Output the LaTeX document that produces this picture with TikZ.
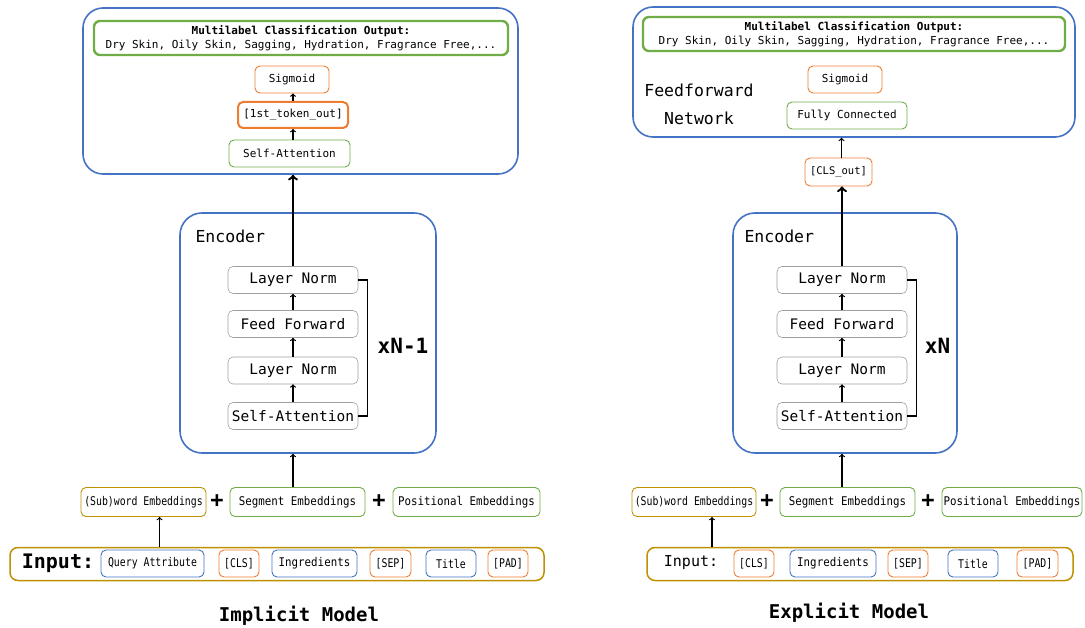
\documentclass[tikz,border=0pt]{standalone}
\usepackage{fontspec}
\setmonofont{DejaVu Sans Mono}
\newfontfamily\condmono[FakeStretch=0.82]{DejaVu Sans Mono}
\newfontfamily\semimono[FakeStretch=0.9]{DejaVu Sans Mono}
\usepackage{xcolor}
\usetikzlibrary{
    arrows,
    positioning
}
\definecolor{lblue}{HTML}{4472C4}
\definecolor{lgreen}{HTML}{70AD47}
\definecolor{lorange}{HTML}{ED7D31}
\definecolor{lgold}{HTML}{BF9000}
\definecolor{lgray}{HTML}{A0A0A0}
\newcommand{\fsz}[1]{\ttfamily\fontsize{#1}{#1}\selectfont}
\newcommand{\csz}[1]{\condmono\fontsize{#1}{#1}\selectfont}
\newcommand{\ssz}[1]{\semimono\fontsize{#1}{#1}\selectfont}
\tikzset{
    blk/.style={draw, rounded corners=5pt, inner sep=0pt, line width=0.9pt, font=\fsz{11}},
    bluebox/.style={blk, draw=lblue},
    greenbox/.style={blk, draw=lgreen},
    orangebox/.style={blk, draw=lorange},
    goldbox/.style={blk, draw=lgold},
    layerbox/.style={blk, draw=lgray, line width=0.6pt, minimum width=130pt, minimum height=27pt, font=\fsz{14.5}},
    panel/.style={draw=lblue, line width=1.6pt, inner sep=0pt},
    outbox/.style={draw=lgreen, line width=2.4pt, rounded corners=6pt, inner sep=0pt, minimum height=34pt, align=center, font=\fsz{11}},
    tok/.style={minimum height=27pt, font=\csz{12}},
    emb/.style={minimum height=29pt, font=\ssz{12}},
    plus/.style={font=\bfseries\fsz{22}},
    arr/.style={->, line width=1.2pt},
    bigarr/.style={->, line width=2.4pt},
    caption/.style={font=\bfseries\fsz{19}}
}
\begin{document}
\begin{tikzpicture}[x=1pt, y=-1pt]
\useasboundingbox (0,0) rectangle (1085,628);

% implicit model
\node[panel, rounded corners=20pt, minimum width=435pt, minimum height=166pt] (Ltop) at (300.5,91) {};
\node[outbox, minimum width=414pt] (Lout) at (301,38) {{\bfseries Multilabel Classification Output:}\\[3pt]Dry Skin, Oily Skin, Sagging, Hydration, Fragrance Free,...};
\node[orangebox, minimum width=74pt, minimum height=27pt] (Lsig) at (292,79.5) {Sigmoid};
\node[orangebox, line width=2pt, minimum width=110pt, minimum height=26pt] (Ltok) at (293,115) {[1st\_token\_out]};
\node[greenbox, minimum width=121pt, minimum height=27pt] (Lsa) at (289.5,153.5) {Self-Attention};
\draw[arr] (Lsa.north -| Ltok) -- (Ltok.south);
\draw[arr] (Ltok.north) -- (Lsig.south -| Ltok);

\node[panel, rounded corners=22pt, minimum width=256pt, minimum height=240pt] (Lenc) at (308,333) {};
\node[anchor=west, font=\fsz{16.5}] (Llab) at (192,236) {Encoder};
\node[layerbox] (Lln2) at (293,280) {Layer Norm};
\node[layerbox] (Lff) at (293,324) {Feed Forward};
\node[layerbox] (Lln1) at (293,370.5) {Layer Norm};
\node[layerbox] (Lsa1) at (293,416) {Self-Attention};
\draw[arr] (Lsa1) -- (Lln1);
\draw[arr] (Lln1) -- (Lff);
\draw[arr] (Lff) -- (Lln2);
\draw[line width=1.5pt] (Lln2.east) -- ++(9,0) |- (Lsa1.east);
\node[font=\bfseries\fsz{21}] (Lrep) at (403,346) {xN-1};
\draw[bigarr] (Lln2.north) -- (Lln2.north |- Ltop.south);

\node[goldbox, emb, minimum width=125pt, font=\csz{12}] (Lsub) at (143.5,502) {(Sub)word Embeddings};
\node[plus] (Lp1) at (217,501) {+};
\node[greenbox, emb, minimum width=135pt] (Lseg) at (297.5,502) {Segment Embeddings};
\node[plus] (Lp2) at (379,501) {+};
\node[greenbox, emb, minimum width=147pt] (Lpos) at (466.5,502) {Positional Embeddings};
\draw[arr] (Lsa1.south |- Lseg.north) -- (Lsa1.south |- Lenc.south);

\node[goldbox, line width=1.5pt, rounded corners=8pt, minimum width=534pt, minimum height=33pt] (Lin) at (277,564) {};
\node[font=\bfseries\fsz{20}] (Lhead) at (58,563) {Input:};
\node[bluebox, tok, minimum width=103pt] (Lq) at (152.5,563.5) {Query Attribute};
\node[orangebox, tok, minimum width=40pt] (Lcls) at (239,563.5) {[CLS]};
\node[bluebox, tok, minimum width=85pt, font=\ssz{12}] (Ling) at (314.5,563.5) {Ingredients};
\node[orangebox, tok, minimum width=41pt] (Lsep) at (390.5,563.5) {[SEP]};
\node[bluebox, tok, minimum width=50pt] (Ltit) at (451,563.5) {Title};
\node[orangebox, tok, minimum width=40pt] (Lpad) at (508,563.5) {[PAD]};
\draw[arr] ([xshift=16pt]Lsub.south |- Lin.north) -- ([xshift=16pt]Lsub.south);
\node[caption] (Lname) at (299,616) {Implicit Model};

% explicit model
\node[panel, rounded corners=20pt, minimum width=442pt, minimum height=130pt] (Rtop) at (854,72) {};
\node[outbox, minimum width=422pt] (Rout) at (854,34) {{\bfseries Multilabel Classification Output:}\\[3pt]Dry Skin, Oily Skin, Sagging, Hydration, Fragrance Free,...};
\node[align=center, font=\ttfamily\fontsize{16.5}{28}\selectfont] (Rff) at (699,104) {Feedforward\\Network};
\node[orangebox, minimum width=74pt, minimum height=27pt] (Rsig) at (845,79.5) {Sigmoid};
\node[greenbox, minimum width=120pt, minimum height=27pt] (Rfc) at (847,115.5) {Fully Connected};
\node[orangebox, minimum width=67pt, minimum height=28pt, font=\fsz{10.5}] (Rcls) at (838.5,172) {[CLS\_out]};
\draw[arr] ([xshift=3pt]Rcls.north) -- ([xshift=3pt]Rcls.north |- Rtop.south);

\node[panel, rounded corners=22pt, minimum width=224pt, minimum height=240pt] (Renc) at (845,333) {};
\node[anchor=west, font=\fsz{16.5}] (Rlab) at (741,236) {Encoder};
\node[layerbox] (Rln2) at (842,280) {Layer Norm};
\node[layerbox] (Rff2) at (842,324) {Feed Forward};
\node[layerbox] (Rln1) at (842,370.5) {Layer Norm};
\node[layerbox] (Rsa1) at (842,416) {Self-Attention};
\draw[arr] (Rsa1) -- (Rln1);
\draw[arr] (Rln1) -- (Rff2);
\draw[arr] (Rff2) -- (Rln2);
\draw[line width=1.5pt] (Rln2.east) -- ++(9,0) |- (Rsa1.east);
\node[font=\bfseries\fsz{21}] (Rrep) at (937.5,346) {xN};
\draw[bigarr] (Rln2.north) -- (Rln2.north |- Rcls.south);

\node[goldbox, emb, minimum width=124pt, font=\csz{12}] (Rsub) at (694,502) {(Sub)word Embeddings};
\node[plus] (Rp1) at (767,501) {+};
\node[greenbox, emb, minimum width=135pt] (Rseg) at (847.5,502) {Segment Embeddings};
\node[plus] (Rp2) at (928,501) {+};
\node[greenbox, emb, minimum width=140pt] (Rpos) at (1012,502) {Positional Embeddings};
\draw[arr] (Rsa1.south |- Rseg.north) -- (Rsa1.south |- Renc.south);

\node[goldbox, line width=1.5pt, rounded corners=8pt, minimum width=426pt, minimum height=33pt] (Rin) at (860,564) {};
\node[font=\fsz{15}] (Rhead) at (691,563) {Input:};
\node[orangebox, tok, minimum width=40pt] (Rcls2) at (754,563.5) {[CLS]};
\node[bluebox, tok, minimum width=86pt, font=\ssz{12}] (Ring) at (833,563.5) {Ingredients};
\node[orangebox, tok, minimum width=40pt] (Rsep) at (908,563.5) {[SEP]};
\node[bluebox, tok, minimum width=50pt] (Rtit) at (973,563.5) {Title};
\node[orangebox, tok, minimum width=41pt] (Rpad) at (1037.5,563.5) {[PAD]};
\draw[arr] ([xshift=18pt]Rsub.south |- Rin.north) -- ([xshift=18pt]Rsub.south);
\node[caption] (Rname) at (849,613) {Explicit Model};
\end{tikzpicture}
\end{document}
